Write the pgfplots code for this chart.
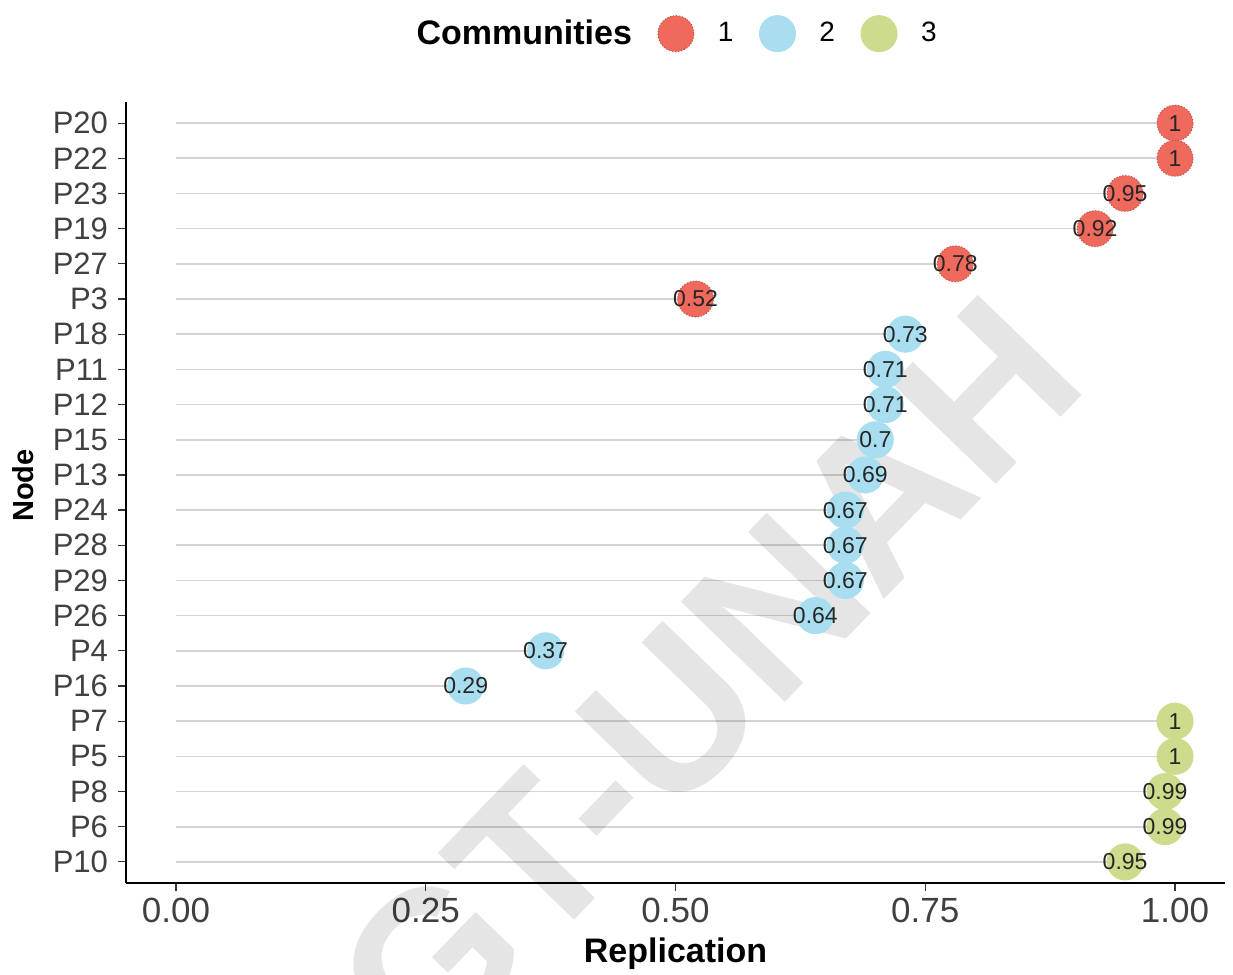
\documentclass[border=0pt]{standalone}
\usepackage{pgfplots}
\pgfplotsset{compat=1.18}
\usepackage{pgfplotstable}
\usepackage{fontspec}
\setmainfont{Liberation Sans}

\definecolor{cA}{RGB}{239,106,92}
\definecolor{cB}{RGB}{168,222,240}
\definecolor{cC}{RGB}{205,219,140}
\definecolor{lineg}{RGB}{212,212,212}

\pgfplotstableread{
y x lab
22 1.00 1
21 1.00 1
20 0.95 0.95
19 0.92 0.92
18 0.78 0.78
17 0.52 0.52
}\comA
\pgfplotstableread{
y x lab
16 0.73 0.73
15 0.71 0.71
14 0.71 0.71
13 0.70 0.7
12 0.69 0.69
11 0.67 0.67
10 0.67 0.67
9 0.67 0.67
8 0.64 0.64
7 0.37 0.37
6 0.29 0.29
}\comB
\pgfplotstableread{
y x lab
5 1.00 1
4 1.00 1
3 0.99 0.99
2 0.99 0.99
1 0.95 0.95
}\comC

\begin{document}
\begin{tikzpicture}
\begin{axis}[
  name=ax,
  scale only axis,
  width=549.5pt, height=390.5pt,
  xmin=-0.05, xmax=1.05, ymin=0.4, ymax=22.6,
  axis lines*=left,
  axis line style={line width=0.8pt, black},
  xtick={0,0.25,0.5,0.75,1},
  xticklabels={0.00,0.25,0.50,0.75,1.00},
  ytick={1,...,22},
  yticklabels={P10,P6,P8,P5,P7,P16,P4,P26,P29,P28,P24,P13,P15,P12,P11,P18,P3,P27,P19,P23,P22,P20},
  tick align=outside,
  major tick length=4pt,
  tick style={line width=0.6pt, black!80},
  yticklabel style={font=\fontsize{15.5}{15.5}\selectfont, text=black!75, xshift=-1.5pt},
  xticklabel style={font=\fontsize{17.5}{17.5}\selectfont, text=black!75},
  xlabel={Replication}, ylabel={Node},
  xlabel style={at={(axis description cs:0.5,-0.102)}, anchor=base, font=\fontsize{17}{17}\selectfont\bfseries},
  ylabel style={at={(axis description cs:-0.0937,0.509)}, anchor=center, font=\fontsize{14.5}{14.5}\selectfont\bfseries},
  clip=false,
  legend columns=-1,
  legend style={at={(axis description cs:0.501,1.0875)}, anchor=center, draw=none,
    font=\fontsize{14}{14}\selectfont,
    nodes={inner sep=0pt},
    /tikz/every even column/.append style={column sep=13pt}},
  legend image code/.code={\path[draw=none,fill=none] (0pt,-9pt) rectangle (30pt,9pt); \draw[#1] plot coordinates {(9pt,0pt)};},
  nodes near coords,
  point meta=explicit symbolic,
  every node near coord/.append style={anchor=center, font=\fontsize{11.5}{11.5}\selectfont, text=black!85},
]
\addlegendimage{empty legend}
\addlegendentry{\fontsize{17}{17}\selectfont\bfseries Communities\hspace{16.5pt}}

\addplot[xcomb, lineg, line width=0.8pt, forget plot, nodes near coords=] table[x=x,y=y] \comA;
\addplot[xcomb, lineg, line width=0.8pt, forget plot, nodes near coords=] table[x=x,y=y] \comB;
\addplot[xcomb, lineg, line width=0.8pt, forget plot, nodes near coords=] table[x=x,y=y] \comC;

\addplot[only marks, mark=*, mark size=9pt, mark options={fill=cA, draw=cA!75!black, densely dotted, line width=0.5pt}] table[x=x,y=y,meta=lab] \comA;
\addlegendentry{1}
\addplot[only marks, mark=*, mark size=9pt, mark options={fill=cB, draw=cB, line width=0.5pt}] table[x=x,y=y,meta=lab] \comB;
\addlegendentry{2}
\addplot[only marks, mark=*, mark size=9pt, mark options={fill=cC, draw=cC, line width=0.5pt}] table[x=x,y=y,meta=lab] \comC;
\addlegendentry{3}

\node[rotate=46, text=black, opacity=0.10, font=\fontsize{105}{105}\selectfont\bfseries] at (axis cs:0.479,4.65) {UGT-UNAH};
\end{axis}
\pgfresetboundingbox
\path[use as bounding box] ([shift={(-63pt,-46pt)}]ax.south west) rectangle ([shift={(4pt,51pt)}]ax.north east);
\end{tikzpicture}
\end{document}
